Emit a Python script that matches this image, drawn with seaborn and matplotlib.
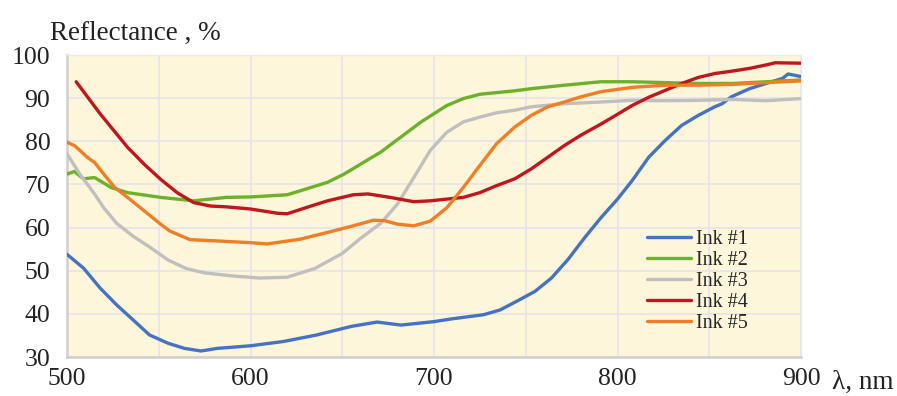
import numpy as np
import pandas as pd
import seaborn as sns
import matplotlib.pyplot as plt

# reflectance spectra (nm, %)
wl1 = [500, 509, 518, 527, 536, 545, 555, 564, 573, 582, 600, 618, 636, 655, 669, 682, 700, 709, 727, 736,
       745, 755, 764, 773, 782, 791, 800, 808, 817, 826, 835, 844, 853, 857, 862, 872, 881, 890, 893, 900]
ink1 = [53.8, 50.6, 46.0, 42.1, 38.6, 35.1, 33.2, 32.0, 31.4, 32.0, 32.6, 33.6, 35.1, 37.1, 38.1, 37.4, 38.2, 38.8, 39.8, 40.9,
        42.9, 45.2, 48.3, 52.6, 57.6, 62.3, 66.6, 70.9, 76.3, 80.2, 83.7, 86.0, 88.0, 88.7, 90.3, 92.2, 93.4, 94.6, 95.6, 95.0]

wl2 = [500, 504, 509, 515, 524, 533, 551, 569, 587, 600, 620, 633, 642, 651, 660, 671, 682, 693, 700, 707,
       716, 725, 744, 753, 771, 791, 808, 826, 844, 863, 881, 900]
ink2 = [72.4, 73.0, 71.3, 71.6, 69.3, 68.1, 67.0, 66.2, 67.0, 67.1, 67.6, 69.3, 70.5, 72.4, 74.7, 77.5, 81.0, 84.5, 86.4, 88.3,
        89.9, 90.9, 91.7, 92.2, 93.0, 93.8, 93.8, 93.6, 93.4, 93.4, 93.8, 94.2]

wl3 = [500, 507, 515, 520, 527, 536, 545, 555, 565, 575, 590, 605, 620, 635, 650, 660, 671, 680, 689, 698,
       707, 716, 725, 734, 744, 753, 771, 791, 808, 826, 844, 863, 881, 900]
ink3 = [77.1, 72.4, 67.8, 64.6, 61.0, 58.0, 55.5, 52.5, 50.5, 49.5, 48.8, 48.3, 48.5, 50.5, 54.0, 57.5, 61.0, 65.4, 71.6, 77.9,
        82.1, 84.5, 85.6, 86.6, 87.2, 88.0, 88.7, 89.1, 89.5, 89.4, 89.5, 89.7, 89.4, 89.9]

wl4 = [505, 518, 533, 542, 551, 560, 569, 578, 587, 600, 615, 620, 633, 642, 656, 664, 676, 689, 698, 707,
       716, 725, 734, 744, 753, 762, 771, 780, 791, 799, 808, 817, 826, 835, 844, 853, 863, 872, 881, 886, 900]
ink4 = [93.8, 86.4, 78.6, 74.7, 71.2, 68.1, 65.8, 65.0, 64.8, 64.3, 63.3, 63.2, 65.0, 66.2, 67.6, 67.8, 67.0, 66.0, 66.2, 66.6,
        67.0, 68.1, 69.7, 71.3, 73.6, 76.3, 79.0, 81.4, 84.0, 86.0, 88.3, 90.2, 91.8, 93.4, 94.8, 95.7, 96.3, 96.9, 97.7, 98.2, 98.1]

wl5 = [500, 504, 507, 511, 515, 520, 526, 533, 542, 551, 556, 567, 582, 600, 609, 627, 645, 655, 667, 673,
       680, 689, 698, 707, 716, 725, 734, 744, 753, 762, 771, 780, 791, 808, 826, 844, 863, 881, 900]
ink5 = [79.8, 79.0, 77.9, 76.3, 75.1, 72.4, 69.3, 67.0, 63.9, 60.8, 59.2, 57.2, 56.9, 56.5, 56.2, 57.3, 59.2, 60.3, 61.7, 61.6,
        60.8, 60.4, 61.5, 64.6, 69.3, 74.4, 79.4, 83.3, 86.0, 88.0, 89.1, 90.3, 91.5, 92.5, 93.0, 93.0, 93.2, 93.6, 94.0]

labels = ["Ink #1", "Ink #2", "Ink #3", "Ink #4", "Ink #5"]
colors = ["#4472C4", "#6DB12A", "#BFBFBF", "#C0161C", "#EF7E26"]

frames = []
for lab, w, v in zip(labels, [wl1, wl2, wl3, wl4, wl5], [ink1, ink2, ink3, ink4, ink5]):
    frames.append(pd.DataFrame({"wl": w, "refl": v, "ink": lab}))
df = pd.concat(frames, ignore_index=True)

sns.set_style("white")
plt.rcParams['font.family'] = ['Liberation Serif', 'DejaVu Serif']

fig = plt.figure(figsize=(8.97, 3.96), dpi=100)
ax = fig.add_axes([67/897, 1-357/396, 734/897, 302/396])
ax.set_facecolor("#FDF6DA")

sns.lineplot(data=df, x="wl", y="refl", hue="ink", palette=colors, estimator=None,
             linewidth=2.4, ax=ax, zorder=3)

ax.set_xlim(500, 900)
ax.set_ylim(30, 100)
ax.set_xticks(np.arange(500, 901, 50))
ax.set_xticklabels([str(t) if t % 100 == 0 else "" for t in range(500, 901, 50)])
ax.set_yticks(np.arange(30, 101, 10))
ax.grid(True, color="#E9E4EA", linewidth=1.3)
ax.tick_params(axis="both", length=0, labelsize=18.5, colors="#222222")
ax.tick_params(axis="y", pad=12)
ax.tick_params(axis="x", pad=8)
ax.set_xlabel("")
ax.set_ylabel("")
for s in ["left", "bottom"]:
    ax.spines[s].set_color("#CFCFCF")
    ax.spines[s].set_linewidth(1.8)
for s in ["top", "right"]:
    ax.spines[s].set_color("#ECE8EC")
    ax.spines[s].set_linewidth(1.0)

ax.legend(loc="upper left", bbox_to_anchor=(0.79, 0.422), frameon=False, fontsize=14.5,
          handlelength=2.2, handletextpad=0.25, labelspacing=0.1, borderpad=0, borderaxespad=0)

fig.text(50/897, 1-40/396, "Reflectance , %", fontsize=19.5, color="#222222", va="baseline")
fig.text(832/897, 1-389/396, "λ, nm", fontsize=19.5, color="#222222", va="baseline")

fig.savefig("out.png", dpi=100)
